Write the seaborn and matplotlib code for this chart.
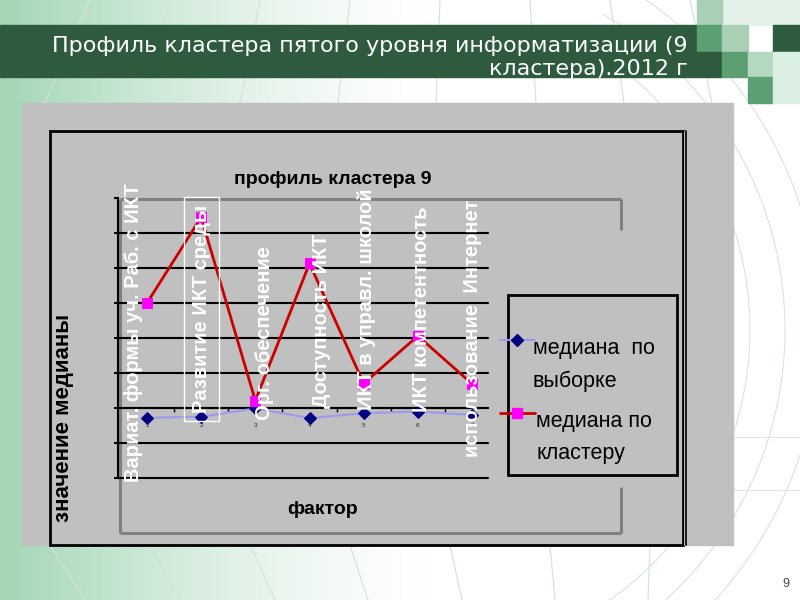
import numpy as np
import pandas as pd
import matplotlib
matplotlib.use("Agg")
import matplotlib.pyplot as plt
from matplotlib.patches import Rectangle, Arc
import seaborn as sns

# data
factors = ["Вариат. формы уч. Раб. с ИКТ", "Развитие ИКТ среды", "Орг. обеспечение",
           "Доступность ИКТ", "ИКТ в управл. школой", "ИКТ компетентность",
           "использование  Интернет"]
factor_num = [1, 2, 3, 4, 5, 6, 7]
median_sample = [-0.28, -0.25, -0.01, -0.29, -0.15, -0.10, -0.20]
median_cluster = [3.00, 5.45, 0.21, 4.13, 0.70, 2.06, 0.69]
series_names = ["медиана  по\nвыборке", "медиана по\nкластеру"]
y_grid = [-2, -1, 0, 1, 2, 3, 4, 5]

slide_title = ["Профиль кластера пятого уровня информатизации (9", "кластера).2012 г"]
chart_title = "профиль кластера 9"
x_title = "фактор"
y_title = "значение медианы"

# layout of the rotated factor names (offsets in data units)
lab_dx = [-0.25, 0.0, 0.17, 0.22, 0.05, 0.07, 0.0]
lab_y0 = [-2.11, -0.14, -0.34, 0.0, -0.06, -0.11, -1.40]

sns.set_theme(style="white")
plt.rcParams["font.family"] = ["Liberation Sans", "DejaVu Sans"]

fig = plt.figure(figsize=(8, 6), dpi=100)

# background layer in pixel coordinates
bg = fig.add_axes([0, 0, 1, 1], zorder=0)
bg.set_xlim(0, 800)
bg.set_ylim(600, 0)
bg.axis("off")

xx = np.linspace(0, 1, 800)
t = np.clip(1 - xx * 800 / 430, 0, 1) ** 1.4
green = np.array([0.64, 0.84, 0.71])
row = (1 - t[:, None]) * 1.0 + t[:, None] * green
grad = np.repeat(row[None, :, :], 600, axis=0)
bg.imshow(grad, extent=(0, 800, 600, 0), aspect="auto", zorder=-10)

# faint perspective lines
line_c = "#d3e2d8"
for x0, x1 in [(90, 45), (170, 140), (260, 240), (350, 338), (440, 436), (530, 536),
               (610, 624), (690, 712)]:
    bg.plot([x0, x1], [0, 103], color=line_c, lw=0.8, zorder=-5)
for x0, x1 in [(50, 85), (150, 180), (250, 275), (350, 368), (450, 462), (550, 555),
               (650, 648)]:
    bg.plot([x0, x1], [545, 600], color=line_c, lw=0.8, zorder=-5)
for r in [330, 365, 400]:
    bg.add_patch(Arc((420, 330), 2 * r, 2 * r, theta1=-60, theta2=60,
                     color=line_c, lw=0.7, zorder=-5))
for yy in [437, 490]:
    bg.plot([733, 800], [yy, yy], color="#dde8e1", lw=0.8, zorder=-5)

# banner and squares
dark, mid, light = "#2e5b3e", "#5c9f73", "#a9cfb5"
bg.add_patch(Rectangle((0, 25), 697, 52, color=dark, zorder=1))
for (x, y, w, h, c) in [(722, 0, 78, 25, "#e4f1e8"), (697, 0, 25, 25, light),
                        (697, 25, 25, 27, mid), (722, 25, 26, 27, light),
                        (697, 52, 25, 25, dark), (722, 52, 26, 25, mid),
                        (748, 52, 25, 25, "#b5d8c0"), (748, 77, 25, 26, mid),
                        (773, 25, 27, 27, dark), (773, 52, 27, 51, "#dcefe3")]:
    bg.add_patch(Rectangle((x, y), w, h, color=c, zorder=1))
bg.text(688, 46, slide_title[0], ha="right", va="center", color="white",
        fontsize=16, family="DejaVu Sans", zorder=2)
bg.text(688, 69, slide_title[1], ha="right", va="center", color="white",
        fontsize=16, family="DejaVu Sans", zorder=2)

# gray chart panel and borders
bg.add_patch(Rectangle((22, 103), 711, 442, color="#c0c0c0", zorder=1))
bg.add_patch(Rectangle((50, 131), 633, 414, fill=False, ec="black", lw=2, zorder=2))
bg.plot([683.6, 683.6], [131, 545], color="white", lw=0.5, zorder=3)
bg.plot([685.5, 685.5], [131, 545], color="black", lw=1.2, zorder=3)
pa = dict(color="#808080", lw=2.2, zorder=2, solid_capstyle="butt")
bg.plot([120, 621], [199, 199], **pa)
bg.plot([621, 621], [199, 230], **pa)
bg.plot([621, 621], [487, 533], **pa)
bg.plot([120, 621], [533, 533], **pa)
bg.plot([120, 120], [199, 533], **pa)

bg.text(333, 180, chart_title, ha="center", va="center", fontsize=14,
        fontweight="bold", color="black", zorder=3)
bg.text(323, 509, x_title, ha="center", va="center", fontsize=14,
        fontweight="bold", color="black", zorder=3)
bg.text(64, 418, y_title, ha="center", va="center", rotation=90, fontsize=16,
        fontweight="bold", color="black", zorder=3)
bg.text(786, 584, "9", ha="center", va="center", fontsize=9, color="#444444")

# legend box
bg.add_patch(Rectangle((508, 295), 169, 180, fc="#c0c0c0", ec="black", lw=2, zorder=4))
bg.plot([500, 535], [340, 340], color="#9a9af0", lw=1.5, zorder=5)
bg.plot([517], [340], marker="D", ms=6, color="#000080", zorder=6)
bg.plot([500, 535], [413, 413], color="#cc0000", lw=2, zorder=5)
bg.plot([517], [413], marker="s", ms=7.5, color="#ff00ff", zorder=6)
leg_txt = dict(ha="left", va="top", fontsize=15.5, color="black", linespacing=1.7, zorder=6)
bg.text(533, 338, series_names[0], **leg_txt)
bg.text(536, 411, series_names[1], **leg_txt)

# plot area
ax = fig.add_axes([118 / 800, 1 - 478 / 600, 370 / 800, 280 / 600], zorder=2)
ax.set_facecolor("none")
df = pd.DataFrame({"factor": factor_num, "sample": median_sample, "cluster": median_cluster})

for v in y_grid:
    ax.axhline(v, color="black", lw=1.5, zorder=1, clip_on=False)

sns.lineplot(data=df, x="factor", y="sample", ax=ax, color="#9a9af0", lw=1.5,
             marker="D", markersize=6.5, markerfacecolor="#000080",
             markeredgecolor="#000080", zorder=3)
sns.lineplot(data=df, x="factor", y="cluster", ax=ax, color="#cc0000", lw=2,
             marker="s", markersize=7.5, markerfacecolor="#ff00ff",
             markeredgecolor="#ff00ff", zorder=3)

ax.set_xlim(0.465, 7.295)
ax.set_ylim(-2, 6)
ax.set_xlabel("")
ax.set_ylabel("")
for s in ["top", "right"]:
    ax.spines[s].set_visible(False)
ax.spines["left"].set_color("black")
ax.spines["left"].set_linewidth(1.5)
ax.spines["bottom"].set_position(("data", 0))
ax.spines["bottom"].set_color("black")
ax.spines["bottom"].set_linewidth(1.5)

ax.set_xticks(factor_num)
ax.set_xticklabels([str(n) for n in factor_num], fontsize=4.5)
ax.set_xticks([n + 0.5 for n in factor_num[:-1]], minor=True)
ax.tick_params(axis="x", which="major", length=0, pad=11)
ax.tick_params(axis="x", which="minor", length=3, width=1, color="black",
               direction="out", bottom=True)
ax.set_yticks(y_grid + [6])
ax.set_yticklabels([])
ax.tick_params(axis="y", length=3, width=1.5, color="black", direction="out", left=True)

for i, name in enumerate(factors):
    kw = {}
    if i == 1:
        kw["bbox"] = dict(boxstyle="square,pad=0.4", fc="none", ec="white", lw=1)
    ax.text(factor_num[i] + lab_dx[i], lab_y0[i], name, rotation=90, ha="center",
            va="bottom", color="white", fontsize=14.5, fontweight="bold",
            clip_on=False, zorder=4, **kw)

fig.savefig("out.png", dpi=100)
